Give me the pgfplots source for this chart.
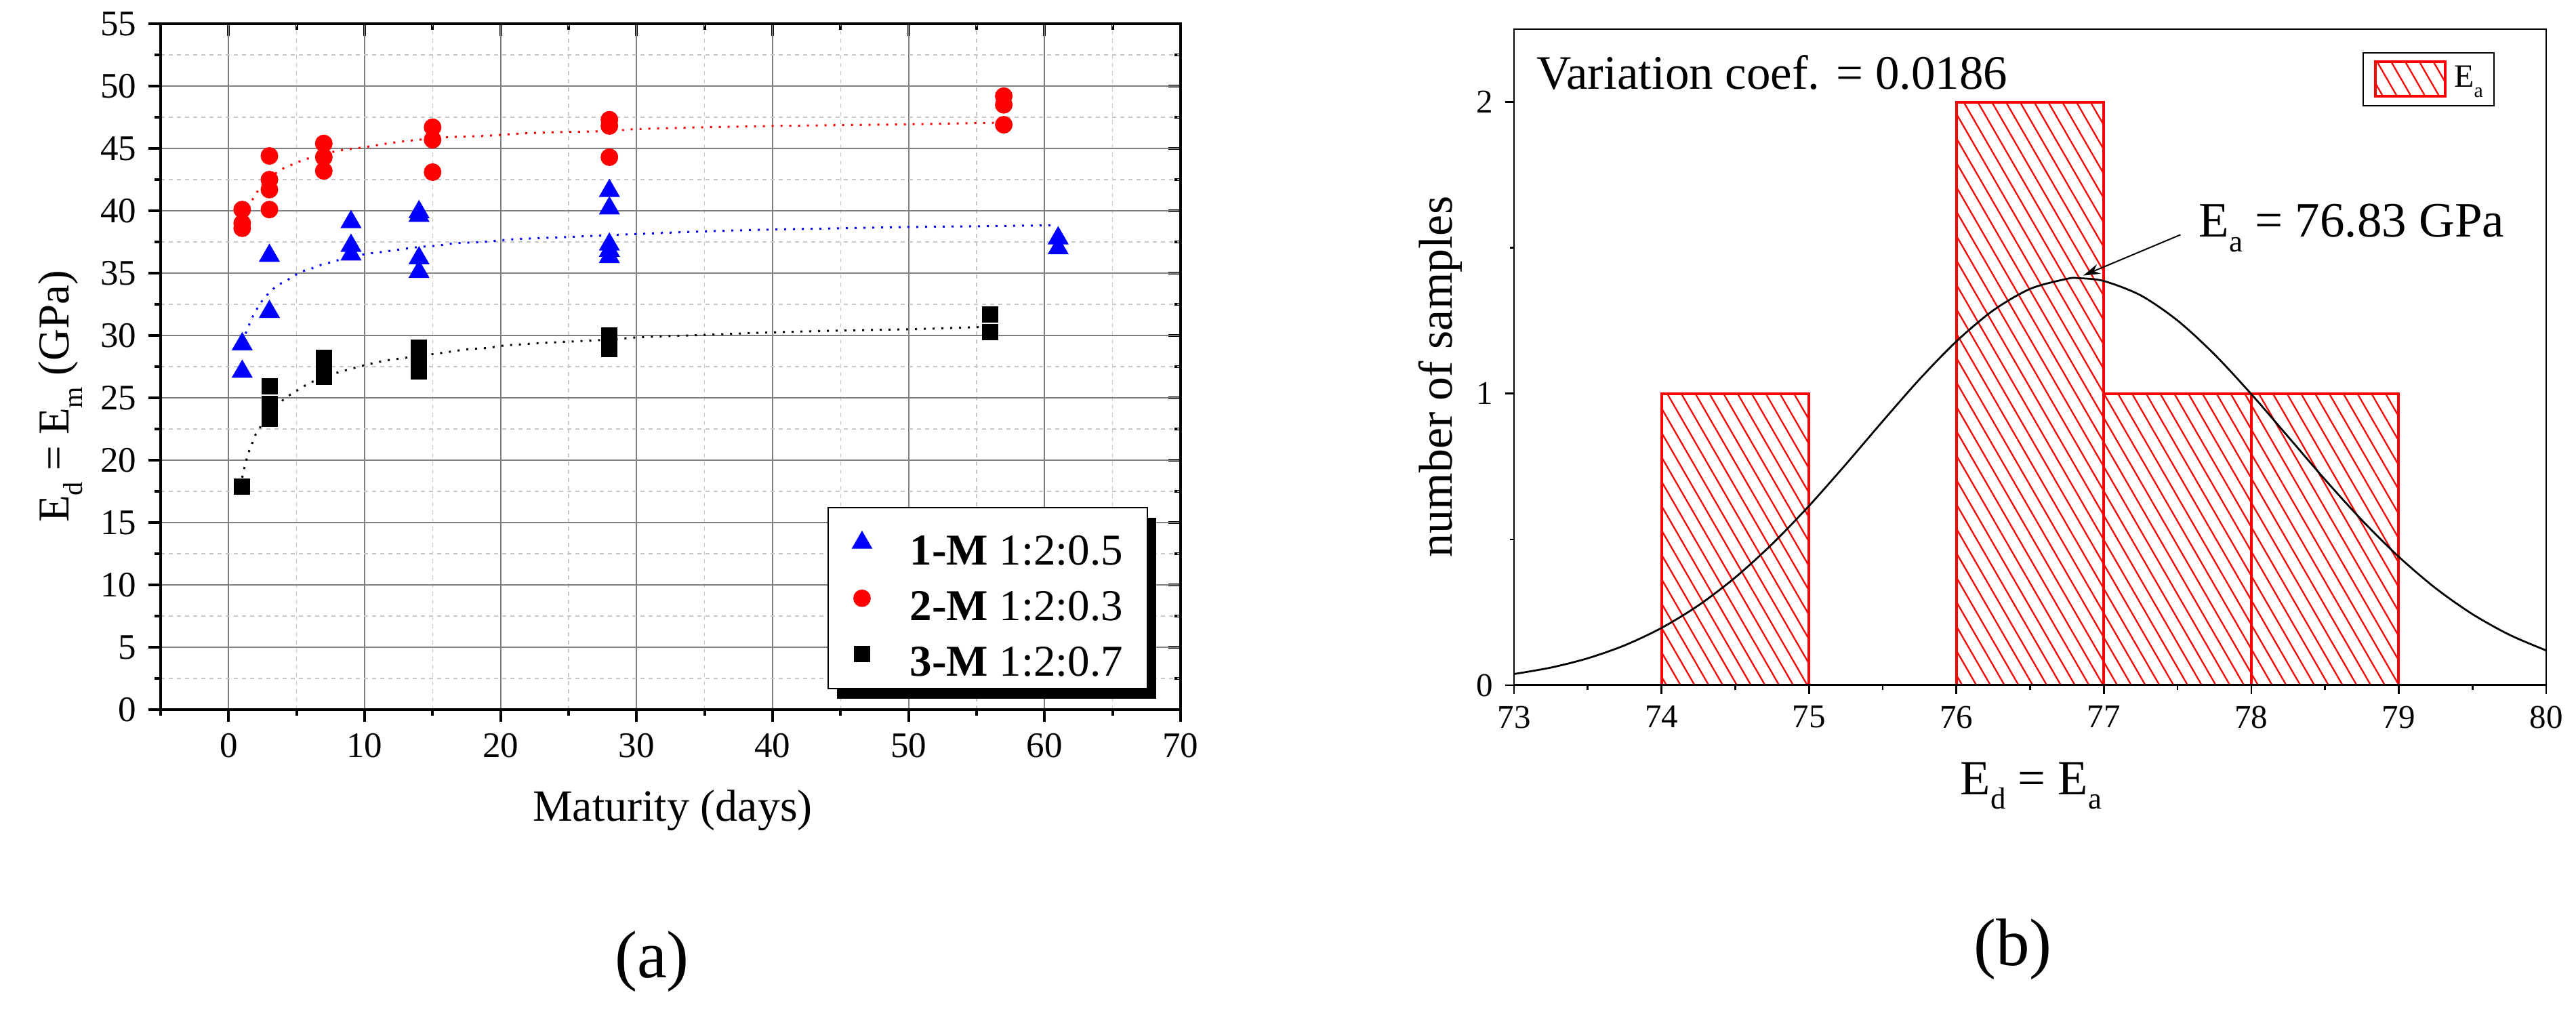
\documentclass[border=0pt]{standalone}
\usepackage{fontspec}
\setmainfont{Liberation Serif}
\usepackage{pgfplots}
\pgfplotsset{compat=1.18}
\usetikzlibrary{patterns.meta,shadows,arrows.meta}
\definecolor{gridmaj}{RGB}{128,128,128}
\definecolor{gridmin}{RGB}{200,200,200}
\newcommand\sbs[1]{\raisebox{-0.3em}{\scalebox{0.62}{#1}}}

\begin{document}
\begin{tikzpicture}
\useasboundingbox (0,0) rectangle (760.2pt,-300.8pt);

% ---------- (a) inward ticks on top / right ----------
\begin{axis}[
  at={(47.4pt,-209.4pt)}, anchor=south west,
  scale only axis, width=301pt, height=202.4pt,
  xmin=-5, xmax=70, ymin=0, ymax=55,
  xtick={0,10,...,70}, minor xtick={-5,5,...,65},
  ytick={0,5,...,55}, minor ytick={2.5,7.5,...,52.5},
  xtick pos=right, ytick pos=right, tick align=inside,
  xticklabels={}, yticklabels={},
  major tick length=3.6pt, minor tick length=1.8pt,
  axis line style={line width=0.75pt},
  tick style={black, line width=0.75pt},
]
\addplot[draw=none] coordinates {(0,0)};
\end{axis}

% ---------- (a) main ----------
\begin{axis}[
  at={(47.4pt,-209.4pt)}, anchor=south west,
  scale only axis, width=301pt, height=202.4pt,
  xmin=-5, xmax=70, ymin=0, ymax=55,
  xtick={0,10,...,70}, minor xtick={-5,5,...,65},
  ytick={0,5,...,55}, minor ytick={2.5,7.5,...,52.5},
  xtick pos=left, ytick pos=left, tick align=outside,
  grid=both,
  major grid style={gridmaj, line width=0.45pt},
  minor grid style={gridmin, line width=0.25pt, dash pattern=on 1.2pt off 1.2pt},
  major tick length=3.6pt, minor tick length=1.8pt,
  axis line style={line width=0.75pt},
  tick style={black, line width=0.75pt},
  ticklabel style={font=\fontsize{10.6}{12}\selectfont},
  /pgf/number format/assume math mode=true,
  xlabel={Maturity (days)},
  xlabel style={at={(axis description cs:0.502,-0.163)}, anchor=base, font=\fontsize{13.2}{15}\selectfont},
  ylabel={E\sbs{d} = E\sbs{m} (GPa)},
  ylabel style={at={(axis description cs:-0.0897,0.4565)}, anchor=base, font=\fontsize{13}{15}\selectfont},
  legend image code/.code={\draw[mark repeat=2,mark phase=2,#1] plot coordinates {(0pt,0pt) (6.2pt,0pt) (12.4pt,0pt)};},
  legend style={at={(axis description cs:0.968,0.0296)}, anchor=south east,
    draw=black, line width=0.35pt, fill=white,
    font=\fontsize{13}{15}\selectfont,
    inner xsep=7.2pt, inner ysep=2.1pt, row sep=0pt, column sep=11.4pt,
    nodes={inner xsep=0pt, inner ysep=0pt, text height=14.7pt, text depth=1.7pt},
    cells={anchor=west},
    drop shadow={shadow xshift=2.6pt, shadow yshift=-3pt, fill=black, opacity=1}},
]
% fitted curves (digitised)
\addplot[red, line width=0.6pt, dash pattern=on 0.6pt off 2pt, smooth, forget plot] coordinates {
 (1,39.7) (1.35,40.3) (1.7,40.8) (2.03,41.4) (2.36,41.9) (3,42.65) (4.03,43.4) (4.66,43.7)
 (5.32,44.0) (6.02,44.25) (8,44.8) (10,45.1) (12,45.45) (14,45.7) (16.1,45.9) (18.75,46.0)
 (21.5,46.2) (24,46.3) (28,46.4) (30,46.55) (35,46.7) (40,46.8) (45,46.87) (50,46.94) (56,47.05) (57,47.07)};
\addplot[blue, line width=0.6pt, dash pattern=on 0.6pt off 2pt, smooth, forget plot] coordinates {
 (1,29.5) (1.36,30.45) (1.6,31.1) (1.9,31.8) (2.25,32.4) (2.6,33.0) (3.08,33.5) (3.53,34.0)
 (4.1,34.3) (4.7,34.7) (5.3,35.1) (5.94,35.3) (6.6,35.6) (7.3,35.8) (7.9,36.0) (9.9,36.5)
 (11.3,36.7) (12.6,36.9) (14,37.1) (15.3,37.2) (16.7,37.4) (18.7,37.5) (20.7,37.7) (22.7,37.8)
 (28,38.04) (30,38.14) (35,38.35) (40,38.5) (45,38.6) (50,38.7) (55,38.76) (60.7,38.84)};
\addplot[black, line width=0.6pt, dash pattern=on 0.6pt off 2pt, smooth, forget plot] coordinates {
 (1,18.6) (1.16,19.4) (1.33,20.1) (1.53,20.8) (1.75,21.4) (2.0,22.1) (2.36,22.7) (3,23.6)
 (3.61,24.4) (4.08,24.9) (4.6,25.3) (5.2,25.7) (5.8,26.1) (6.4,26.4) (7.64,26.9) (8.9,27.3)
 (10.3,27.7) (11.6,28.0) (12.9,28.2) (15,28.5) (16.3,28.7) (17.6,28.9) (19,29.0) (20.3,29.2)
 (21.7,29.3) (23,29.4) (28,29.67) (30,29.85) (35,30.05) (40,30.25) (45,30.4) (50,30.5) (56,30.7)};
% data
\addplot[only marks, mark=triangle*, mark size=3.2pt, color=blue, mark options={fill=blue, draw=blue}] coordinates {
 (1,29.3) (1,27.1) (3,36.4) (3,31.9) (9,39.1) (9,37.2) (9,36.5) (14,39.9) (14,39.6) (14,36.2) (14,35.1)
 (28,41.6) (28,40.2) (28,37.3) (28,36.8) (28,36.3) (61,37.8) (61,37.0)};
\addlegendentry{\textbf{1-M} 1:2:0.5}
\addplot[only marks, mark=*, mark size=2.4pt, color=red, mark options={fill=red, draw=red}] coordinates {
 (1,40.1) (1,39.0) (1,38.6) (3,44.4) (3,42.5) (3,41.7) (3,40.1) (7,45.4) (7,44.3) (7,43.2)
 (15,46.7) (15,45.7) (15,43.1) (28,47.3) (28,46.8) (28,44.3) (57,49.2) (57,48.5) (57,46.9)};
\addlegendentry{\textbf{2-M} 1:2:0.3}
\addplot[only marks, mark=square*, mark size=2.2pt, color=black, mark options={fill=black, draw=black}] coordinates {
 (1,17.9) (3,25.9) (3,24.5) (3,23.3) (7,28.2) (7,27.2) (7,26.7) (14,29.0) (14,28.4) (14,27.1)
 (28,30.0) (28,28.9) (56,31.7) (56,30.3)};
\addlegendentry{\textbf{3-M} 1:2:0.7}
\end{axis}

% ---------- (b) ----------
\begin{axis}[
  at={(446.8pt,-202.2pt)}, anchor=south west,
  scale only axis, width=304.6pt, height=193.6pt,
  xmin=73, xmax=80, ymin=0, ymax=2.25,
  xtick={73,74,...,80}, minor xtick={73.5,74.5,...,79.5},
  ytick={0,1,2}, minor ytick={0.5,1.5},
  xtick pos=left, ytick pos=left, tick align=outside,
  major tick length=2.6pt, minor tick length=1.3pt,
  axis line style={line width=0.55pt},
  tick style={black, line width=0.55pt},
  axis on top,
  ticklabel style={font=\fontsize{9.8}{11}\selectfont},
  /pgf/number format/assume math mode=true,
  xlabel={E\sbs{d} = E\sbs{a}},
  xlabel style={at={(axis description cs:0.501,-0.1663)}, anchor=base, font=\fontsize{14.5}{16}\selectfont},
  ylabel={number of samples},
  ylabel style={at={(axis description cs:-0.0598,0.470)}, anchor=base, font=\fontsize{14}{16}\selectfont},
  legend style={at={(axis description cs:0.950,0.965)}, anchor=north east,
    draw=black, line width=0.4pt, fill=white,
    font=\fontsize{9.6}{11}\selectfont,
    inner xsep=3.2pt, inner ysep=2.3pt, column sep=2.2pt,
    nodes={inner xsep=0pt, inner ysep=0pt},
    cells={anchor=west}},
]
\addplot[ybar interval, draw=red, line width=0.8pt,
  pattern={Lines[angle=-60,distance=3.6pt,line width=0.45pt]}, pattern color=red,
  legend image code/.code={\draw[draw=red, line width=0.8pt, pattern={Lines[angle=-60,distance=3.6pt,line width=0.45pt]}, pattern color=red] (0pt,-5.1pt) rectangle (20.6pt,5.1pt);}]
  coordinates {(74,1) (75,0) (76,2) (77,1) (78,1) (79,1)};
\addlegendentry{E\sbs{a}}
\addplot[black, line width=0.55pt, smooth, forget plot] coordinates {
 (73,0.0385) (73.25,0.0605) (73.5,0.0924) (73.75,0.1368) (74,0.1964) (74.25,0.2736) (74.5,0.3695)
 (74.75,0.4840) (75,0.6148) (75.25,0.7575) (75.5,0.9053) (75.75,1.0493) (76,1.1793) (76.25,1.2856)
 (76.5,1.3593) (76.75,1.3938) (76.83,1.396) (77,1.3862) (77.25,1.3370) (77.5,1.2507) (77.75,1.1347)
 (78,0.9984) (78.25,0.8521) (78.5,0.7052) (78.75,0.5661) (79,0.4407) (79.25,0.3327) (79.5,0.2437)
 (79.75,0.1731) (80,0.1192)};
\draw[line width=1pt] (axis description cs:0,0) -- (axis description cs:1,0);
\node[anchor=base west, inner sep=0pt, font=\fontsize{14.2}{16}\selectfont] at (axis cs:73.15,2.044) {Variation coef. = 0.0186};
\node[anchor=base west, inner sep=0pt, font=\fontsize{14.6}{16}\selectfont] at (axis cs:77.64,1.538) {E\sbs{a} = 76.83 GPa};
\draw[-{Stealth[length=5pt,width=3pt]}, line width=0.4pt] (axis cs:77.52,1.545) -- (axis cs:76.86,1.405);
\end{axis}

\node[font=\fontsize{19.8}{22}\selectfont] at (192.4pt,-283.8pt) {(a)};
\node[font=\fontsize{19.8}{22}\selectfont] at (594pt,-280.2pt) {(b)};
\end{tikzpicture}
\end{document}
